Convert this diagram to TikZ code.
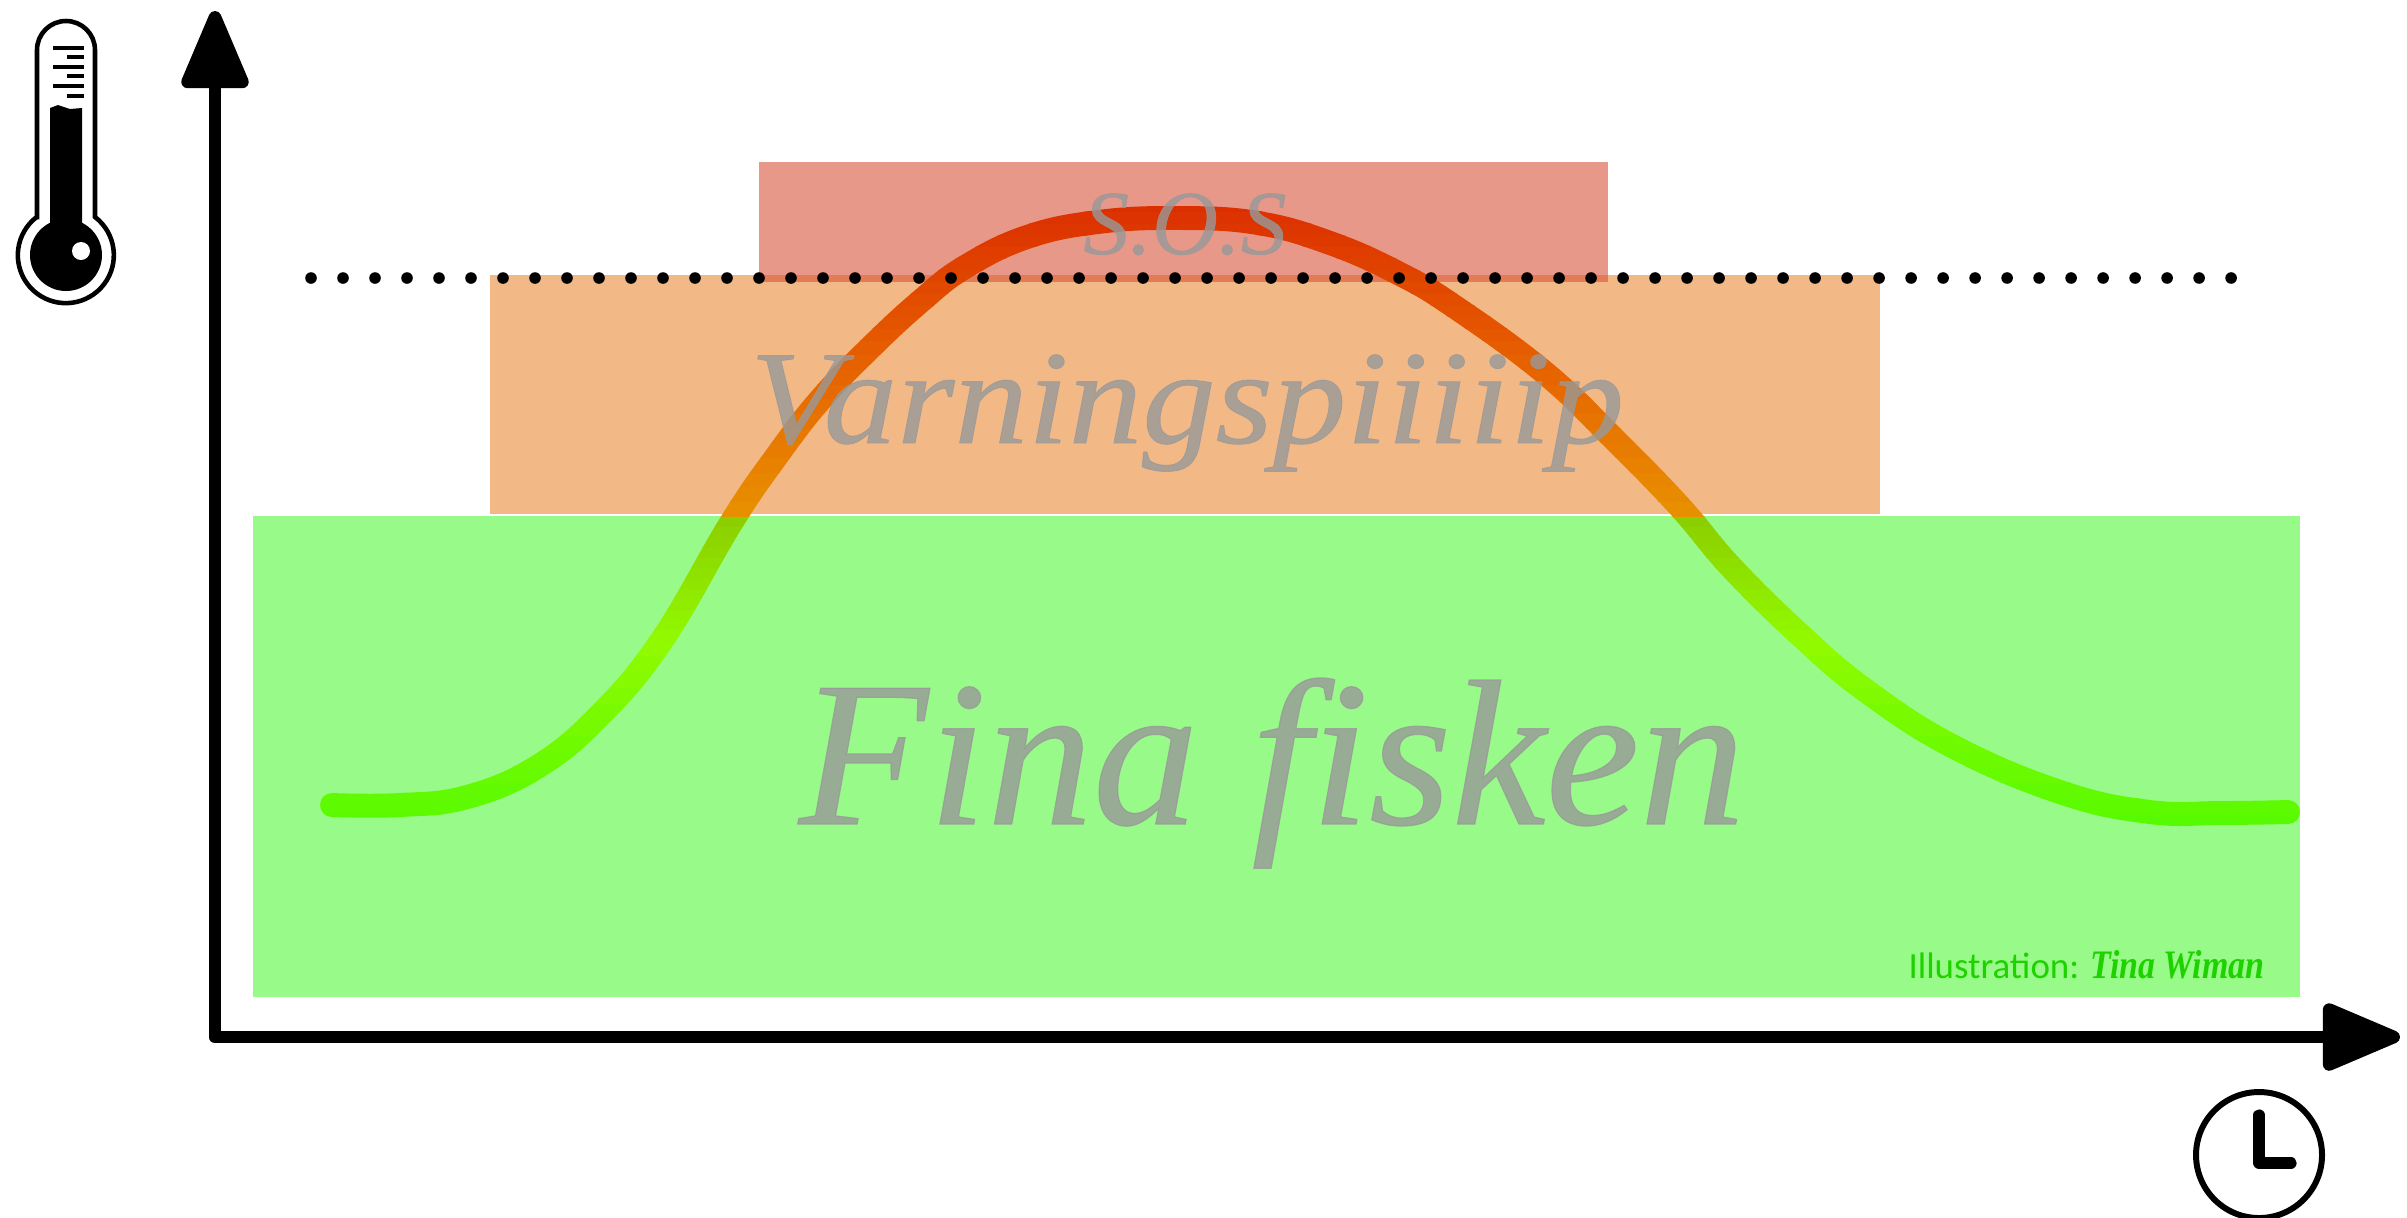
\documentclass[tikz,border=0pt]{standalone}
\usepackage{fontspec}
\usetikzlibrary{arrows.meta}
\setmainfont{Liberation Serif}
\newfontfamily\creditfont{Carlito}
\newfontfamily\zonefont{Liberation Serif Italic}[FakeBold=0.6]
\definecolor{zonegreen}{RGB}{152,250,136}
\definecolor{zoneorange}{RGB}{242,185,135}
\definecolor{zonered}{RGB}{217,83,57}
\definecolor{credit}{RGB}{30,210,0}
\definecolor{ctemp}{RGB}{85,250,0}
\definecolor{cwarm}{RGB}{145,250,0}
\definecolor{cedge}{RGB}{140,205,0}
\definecolor{chot}{RGB}{232,145,0}
\definecolor{cburn}{RGB}{230,90,0}
\definecolor{ctop}{RGB}{218,45,0}
\tikzset{
    axisline/.style={line width=3.6pt, line join=round, {Triangle[length=25pt, width=20pt, round]}-{Triangle[length=25pt, width=20pt, round]}},
    zonetext/.style={anchor=base, text=black!40, opacity=0.8},
    icon/.style={line width=1.3pt}
}
\def\fishcurve{plot[smooth, tension=0.7] coordinates {(332,805) (400,805) (467,797) (537,767) (600,715) (662,640) (731,523) (776,457) (820,400) (871,347) (922,300) (965,267) (1027,237) (1098,222) (1178,218) (1258,223) (1330,243) (1398,273) (1455,307) (1545,373) (1615,440) (1680,507) (1731,567) (1798,633) (1865,690) (1954,747) (2063,793) (2150,812) (2220,813) (2288,812)}}
\begin{document}
\begin{tikzpicture}[x=0.01cm, y=-0.01cm]
    \useasboundingbox (0,0) rectangle (2407,1217);

    % zones
    \fill[zonegreen] (253,516) rectangle (2300,997);
    \fill[zoneorange] (490,275) rectangle (1880,514);
    \fill[zonered, opacity=0.6] (759,162) rectangle (1608,282);

    % curve, coloured by height
    \foreach \ylow/\yhigh/\clow/\chigh in {830/640/ctemp/cwarm, 640/516/cwarm/cedge, 516/340/chot/cburn, 340/200/cburn/ctop} {
        \foreach \i in {0,...,11} {
            \pgfmathsetmacro{\yband}{\ylow+(\yhigh-\ylow)*\i/12}
            \pgfmathsetmacro{\ynext}{\ylow+(\yhigh-\ylow)*(\i+1)/12}
            \pgfmathsetmacro{\mixval}{100*(\i+0.5)/12}
            \begin{scope}
                \clip (0,\yband) rectangle (2407,\ynext);
                \draw[\chigh!\mixval!\clow, line width=6.8pt, line cap=round] \fishcurve;
            \end{scope}
        }
    }

    % texts
    \node[zonetext, font=\zonefont\fontsize{59}{59}\selectfont, xscale=1.02] (fina) at (1272,824) {Fina fisken};
    \node[zonetext, font=\zonefont\fontsize{38}{38}\selectfont, xscale=1.1] (varning) at (1187,443) {Varningspiiiiip};
    \node[zonetext, font=\zonefont\fontsize{26}{26}\selectfont] (sos) at (1185,254) {S.O.S};
    \node[anchor=base east, text=credit, inner sep=0pt, font=\creditfont\fontsize{10.5}{10.5}\selectfont] (illus) at (2080,978) {Illustration:};
    \node[anchor=base west, text=credit, inner sep=0pt, xscale=0.84, font=\itshape\bfseries\fontsize{11.5}{11.5}\selectfont] (tina) at (2090,978) {Tina Wiman};

    % threshold
    \coordinate (dotl) at (311,278);
    \coordinate (dotr) at (2245,278);
    \draw[line width=3.3pt, line cap=round, dash pattern=on 0pt off 9.1pt] (dotl) -- (dotr);

    % axes
    \coordinate (ytop) at (215,11);
    \coordinate (origin) at (215,1037);
    \coordinate (xend) at (2400,1037);
    \draw[axisline] (ytop) -- (origin) -- (xend);

    % thermometer
    \draw[icon] (37,217) -- (37,50) arc[start angle=180, end angle=360, radius=29] -- (95,217)
        arc[start angle=-52.6, end angle=232.6, radius=48] -- cycle;
    \fill (50,108) -- (58,105) -- (70,109) -- (82,108) -- (82,225) -- (50,225) -- cycle;
    \fill (66,255) circle[radius=36];
    \fill[white] (81,251) circle[radius=9];
    \foreach \ytick/\xtick in {48/53, 57/67, 67/53, 76/67, 86/53, 96/67}
        \draw[line width=0.9pt] (\xtick,\ytick) -- (84,\ytick);

    % clock
    \draw[line width=1.7pt] (2259,1155) circle[radius=63];
    \draw[line width=3.2pt, line cap=round, line join=round] (2259,1115) -- (2259,1163) -- (2291,1163);
\end{tikzpicture}
\end{document}
